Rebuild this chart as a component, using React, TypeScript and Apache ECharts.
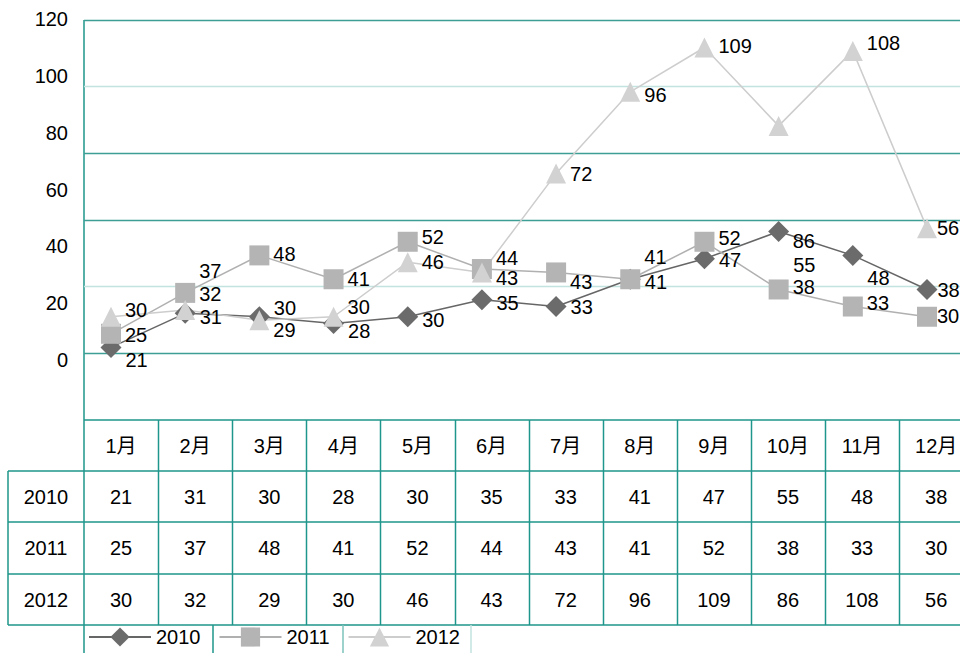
import React, { useEffect, useRef } from "react";
import * as echarts from "echarts";

// ---- data ----
const months = ["1月", "2月", "3月", "4月", "5月", "6月", "7月", "8月", "9月", "10月", "11月", "12月"];
const years = ["2010", "2011", "2012"];
const s2010 = [21, 31, 30, 28, 30, 35, 33, 41, 47, 55, 48, 38];
const s2011 = [25, 37, 48, 41, 52, 44, 43, 41, 52, 38, 33, 30];
const s2012 = [30, 32, 29, 30, 46, 43, 72, 96, 109, 86, 108, 56];
const yTicks = [0, 20, 40, 60, 80, 100, 120];

// ---- layout (label nudges, px) ----
const nudge2010 = [13, 4, -9, 7, 3, 3, 0, 3, 1, 33, 23, 1];
const nudge2011 = [1, -22, -1, 0, -5, -11, 10, -22, -4, -2, -4, -1];
const nudge2012 = [-7, -16, 10, -10, 0, 6, 0, 3, -1, 115, -8, 0];

const FONT = '"Liberation Sans", Arial, "Noto Sans CJK SC", sans-serif';
const TEAL = "#1f968b";
const GRID_TEAL = "#3c9e94";
const LIGHT_TEAL = "#c2e3df";

export default function App() {
  const ref = useRef<HTMLDivElement>(null);

  useEffect(() => {
    if (!ref.current) return;
    const chart = echarts.init(ref.current, null, { renderer: "svg" });

    const allSeries = [s2010, s2011, s2012];
    const nudges = [nudge2010, nudge2011, nudge2012];
    const colors = ["#6b6b6b", "#b4b4b4", "#d2d2d2"];
    const lineColors = ["#666666", "#b0b0b0", "#cdcdcd"];
    const symbols = ["diamond", "rect", "triangle"];
    const symbolSizes = [21, 20, 20];

    const series = allSeries.map((vals, si) => ({
      name: years[si],
      type: "line",
      xAxisIndex: 0,
      yAxisIndex: 0,
      symbol: symbols[si],
      symbolSize: symbolSizes[si],
      showAllSymbol: true,
      itemStyle: { color: colors[si] },
      lineStyle: { color: lineColors[si], width: 1.5 },
      label: {
        show: true,
        position: "right",
        distance: 4,
        color: "#000",
        fontSize: 20,
        fontFamily: FONT,
      },
      clip: false,
      data: vals.map((v, i) => ({
        value: v,
        label: { offset: [i === vals.length - 1 ? -4 : 0, nudges[si][i]] },
      })),
    }));

    // ---- table graphics ----
    const tLeft = 84;
    const colW = 74.1;
    const rowY = [420, 471, 522, 574, 625];
    const els: any[] = [];
    const line = (x1: number, y1: number, x2: number, y2: number, stroke: string, w: number) =>
      els.push({ type: "line", shape: { x1, y1, x2, y2 }, style: { stroke, lineWidth: w }, silent: true });
    const text = (t: string, x: number, y: number) =>
      els.push({
        type: "text",
        style: { text: t, x, y, fill: "#000", font: `20px ${FONT}`, align: "center", verticalAlign: "middle" },
        silent: true,
      });

    // left axis line
    line(tLeft, 20, tLeft, 653, TEAL, 1.5);
    // horizontal table lines
    line(tLeft, rowY[0], 960, rowY[0], TEAL, 1.5);
    for (let r = 1; r < rowY.length; r++) line(8, rowY[r], 960, rowY[r], TEAL, 1.5);
    // left column border
    line(8, rowY[1], 8, rowY[4], TEAL, 1.5);
    // column lines
    for (let c = 1; c < months.length; c++) {
      const x = Math.round(tLeft + colW * c) + 0.5;
      line(x, rowY[0], x, rowY[4], TEAL, 1.5);
    }
    // legend dividers
    line(213, rowY[4], 213, 653, TEAL, 1.5);
    line(343, rowY[4], 343, 653, "#7cc2bb", 1.5);
    line(471, rowY[4], 471, 653, LIGHT_TEAL, 1.5);

    // header months
    months.forEach((m, i) => text(m, tLeft + colW * (i + 0.5), (rowY[0] + rowY[1]) / 2));
    // rows
    allSeries.forEach((vals, si) => {
      const cy = (rowY[si + 1] + rowY[si + 2]) / 2;
      text(years[si], 46, cy);
      vals.forEach((v, i) => text(String(v), tLeft + colW * (i + 0.5), cy));
    });

    const option: any = {
      animation: false,
      backgroundColor: "#fff",
      grid: [
        { left: 111, right: 33, top: 10, height: 409 },
        { left: 84, right: 0, top: 20, height: 333 },
        { left: 84, right: 0, top: 19, height: 341 },
      ],
      xAxis: [
        { type: "category", gridIndex: 0, data: months, boundaryGap: false, show: false },
        { type: "value", gridIndex: 1, show: false },
        { type: "value", gridIndex: 2, show: false },
      ],
      yAxis: [
        { type: "value", gridIndex: 0, min: 0, max: 120, show: false },
        {
          type: "value",
          gridIndex: 1,
          min: 0,
          max: 5,
          interval: 1,
          axisLine: { show: false },
          axisTick: { show: false },
          axisLabel: { show: false },
          splitLine: {
            show: true,
            lineStyle: { color: [GRID_TEAL, LIGHT_TEAL, GRID_TEAL, GRID_TEAL, LIGHT_TEAL, GRID_TEAL], width: 1.3 },
          },
        },
        {
          type: "value",
          gridIndex: 2,
          min: yTicks[0],
          max: yTicks[yTicks.length - 1],
          interval: yTicks[1] - yTicks[0],
          axisLine: { show: false },
          axisTick: { show: false },
          splitLine: { show: false },
          axisLabel: { show: true, color: "#000", fontSize: 20, fontFamily: FONT, margin: 16 },
        },
      ],
      legend: {
        data: years,
        left: 88,
        top: 627,
        padding: 0,
        itemWidth: 62,
        itemHeight: 24,
        itemGap: 18,
        textStyle: { color: "#000", fontSize: 20, fontFamily: FONT },
      },
      graphic: { elements: els },
      series,
    };

    chart.setOption(option);
    return () => chart.dispose();
  }, []);

  return (
    <div
      ref={ref}
      style={{ position: "fixed", left: 0, top: 0, width: 960, height: 653, background: "#fff" }}
    />
  );
}
